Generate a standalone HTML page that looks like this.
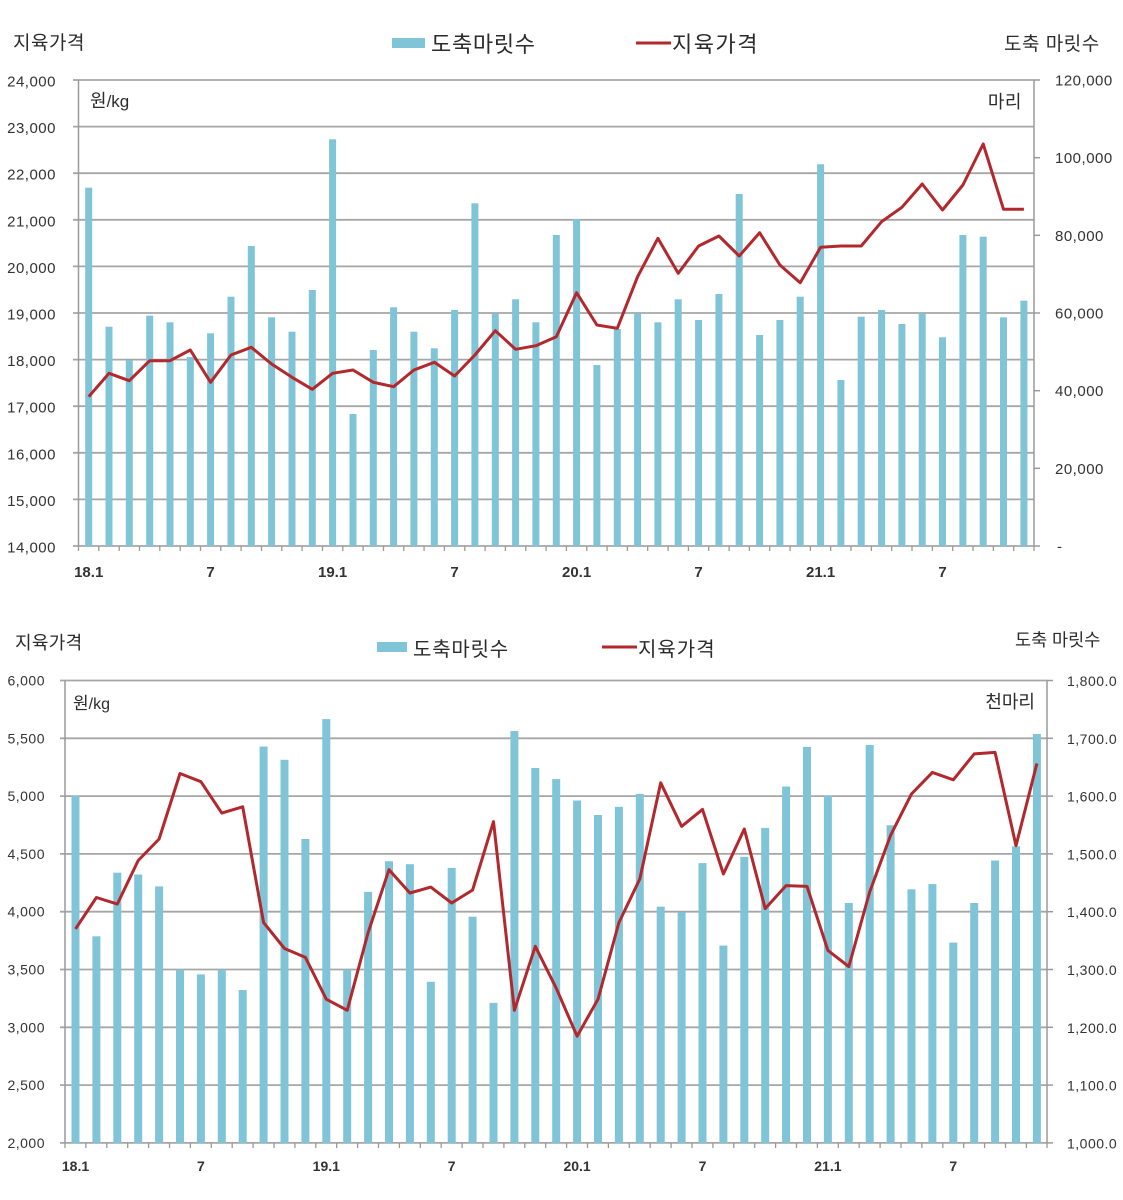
<!DOCTYPE html>
<html>
<head>
<meta charset="utf-8">
<style>
  html,body{margin:0;padding:0;background:#fff;}
  svg{display:block;}
  .kr{font-family:"Liberation Sans","Noto Sans CJK KR","NanumGothic",sans-serif;fill:#2b2b2b;}
  .t1{font-family:"Liberation Sans",sans-serif;font-size:15px;letter-spacing:0.5px;fill:#333;}
  .t2{font-family:"Liberation Sans",sans-serif;font-size:14px;letter-spacing:0.5px;fill:#333;}
  .xl1{font-family:"Liberation Sans",sans-serif;font-size:15px;font-weight:bold;fill:#333;}
  .xl2{font-family:"Liberation Sans",sans-serif;font-size:14px;font-weight:bold;fill:#333;}
</style>
</head>
<body>
<svg width="1123" height="1200" viewBox="0 0 1123 1200" xmlns="http://www.w3.org/2000/svg">
<rect x="0" y="0" width="1123" height="1200" fill="#fff"/>

<!-- ================= TOP CHART ================= -->
<text class="kr" x="13" y="49" font-size="19" letter-spacing="0.5">지육가격</text>
<rect x="392" y="38" width="33" height="10" fill="#80c4d8"/>
<text class="kr" x="431" y="52" font-size="22" letter-spacing="0.7">도축마릿수</text>
<line x1="636" y1="43" x2="671" y2="43" stroke="#b3282d" stroke-width="3"/>
<text class="kr" x="672" y="52" font-size="22" letter-spacing="1.5">지육가격</text>
<text class="kr" x="1004" y="50" font-size="19" letter-spacing="0.5">도축 마릿수</text>

<!-- gridlines -->
<g stroke="#a6a6a6" stroke-width="1.8">
  <line x1="73" y1="80" x2="1034" y2="80"/>
  <line x1="73" y1="126.6" x2="1034" y2="126.6"/>
  <line x1="73" y1="173.2" x2="1034" y2="173.2"/>
  <line x1="73" y1="219.8" x2="1034" y2="219.8"/>
  <line x1="73" y1="266.4" x2="1034" y2="266.4"/>
  <line x1="73" y1="313" x2="1034" y2="313"/>
  <line x1="73" y1="359.6" x2="1034" y2="359.6"/>
  <line x1="73" y1="406.2" x2="1034" y2="406.2"/>
  <line x1="73" y1="452.8" x2="1034" y2="452.8"/>
  <line x1="73" y1="499.4" x2="1034" y2="499.4"/>
  <line x1="73" y1="546" x2="1034" y2="546"/>
</g>
<!-- axes -->
<g stroke="#9a9a9a" stroke-width="1.5">
  <line x1="78.5" y1="80" x2="78.5" y2="546"/>
  <line x1="1034" y1="80" x2="1034" y2="546"/>
  <line x1="1034" y1="80" x2="1040" y2="80"/>
  <line x1="1034" y1="157.7" x2="1040" y2="157.7"/>
  <line x1="1034" y1="235.3" x2="1040" y2="235.3"/>
  <line x1="1034" y1="313" x2="1040" y2="313"/>
  <line x1="1034" y1="390.7" x2="1040" y2="390.7"/>
  <line x1="1034" y1="468.3" x2="1040" y2="468.3"/>
  <line x1="1034" y1="546" x2="1040" y2="546"/>
</g>
<!-- x ticks -->
<path stroke="#9a9a9a" stroke-width="1.3" fill="none" d="M78.5 546v5M98.8 546v5M119.2 546v5M139.5 546v5M159.8 546v5M180.2 546v5M200.5 546v5M220.8 546v5M241.1 546v5M261.5 546v5M281.8 546v5M302.1 546v5M322.5 546v5M342.8 546v5M363.1 546v5M383.5 546v5M403.8 546v5M424.1 546v5M444.4 546v5M464.8 546v5M485.1 546v5M505.4 546v5M525.8 546v5M546.1 546v5M566.4 546v5M586.8 546v5M607.1 546v5M627.4 546v5M647.7 546v5M668.1 546v5M688.4 546v5M708.7 546v5M729.1 546v5M749.4 546v5M769.7 546v5M790.1 546v5M810.4 546v5M830.7 546v5M851 546v5M871.4 546v5M891.7 546v5M912 546v5M932.4 546v5M952.7 546v5M973 546v5M993.4 546v5M1013.7 546v5M1034 546v5"/>

<!-- bars -->
<g fill="#80c4d8">
<rect x="85.2" y="187.7" width="7" height="358.3"/>
<rect x="105.5" y="326.7" width="7" height="219.3"/>
<rect x="125.8" y="360" width="7" height="186"/>
<rect x="146.2" y="315.7" width="7" height="230.3"/>
<rect x="166.5" y="322.3" width="7" height="223.7"/>
<rect x="186.8" y="357" width="7" height="189"/>
<rect x="207.1" y="333.3" width="7" height="212.7"/>
<rect x="227.5" y="296.7" width="7" height="249.3"/>
<rect x="247.8" y="246" width="7" height="300"/>
<rect x="268.1" y="317.3" width="7" height="228.7"/>
<rect x="288.5" y="331.7" width="7" height="214.3"/>
<rect x="308.8" y="290" width="7" height="256"/>
<rect x="329.1" y="139.3" width="7" height="406.7"/>
<rect x="349.5" y="414" width="7" height="132"/>
<rect x="369.8" y="350" width="7" height="196"/>
<rect x="390.1" y="307.3" width="7" height="238.7"/>
<rect x="410.4" y="331.7" width="7" height="214.3"/>
<rect x="430.8" y="348.3" width="7" height="197.7"/>
<rect x="451.1" y="310" width="7" height="236"/>
<rect x="471.4" y="203.3" width="7" height="342.7"/>
<rect x="491.8" y="313.3" width="7" height="232.7"/>
<rect x="512.1" y="299.3" width="7" height="246.7"/>
<rect x="532.4" y="322.3" width="7" height="223.7"/>
<rect x="552.8" y="235" width="7" height="311"/>
<rect x="573.1" y="219" width="7" height="327"/>
<rect x="593.4" y="365" width="7" height="181"/>
<rect x="613.8" y="329" width="7" height="217"/>
<rect x="634.1" y="313.3" width="7" height="232.7"/>
<rect x="654.4" y="322.3" width="7" height="223.7"/>
<rect x="674.7" y="299.3" width="7" height="246.7"/>
<rect x="695.1" y="320" width="7" height="226"/>
<rect x="715.4" y="294" width="7" height="252"/>
<rect x="735.7" y="194" width="7" height="352"/>
<rect x="756.1" y="335" width="7" height="211"/>
<rect x="776.4" y="320" width="7" height="226"/>
<rect x="796.7" y="296.7" width="7" height="249.3"/>
<rect x="817.1" y="164.3" width="7" height="381.7"/>
<rect x="837.4" y="380" width="7" height="166"/>
<rect x="857.7" y="316.7" width="7" height="229.3"/>
<rect x="878.1" y="310" width="7" height="236"/>
<rect x="898.4" y="324" width="7" height="222"/>
<rect x="918.7" y="313.3" width="7" height="232.7"/>
<rect x="939" y="337.3" width="7" height="208.7"/>
<rect x="959.4" y="235" width="7" height="311"/>
<rect x="979.7" y="236.7" width="7" height="309.3"/>
<rect x="1000" y="317.3" width="7" height="228.7"/>
<rect x="1020.4" y="300.7" width="7" height="245.3"/>
</g>

<polyline fill="none" stroke="#b3282d" stroke-width="3" stroke-linejoin="round" points="88.7,396.7 109,373.3 129.3,380.7 149.7,360.7 170,360.7 190.3,350 210.6,382.3 231,355 251.3,347.3 271.6,364 292,377.3 312.3,389.3 332.6,373.3 353,370 373.3,382.3 393.6,386.7 413.9,370 434.3,362.3 454.6,376 474.9,355 495.3,330.7 515.6,349.3 535.9,345.7 556.3,336.7 576.6,292.7 596.9,325 617.3,328.3 637.6,276.7 657.9,238.3 678.2,273.3 698.6,246 718.9,236 739.2,256 759.6,232.7 779.9,265 800.2,282.7 820.6,247.3 840.9,246 861.2,246 881.6,221.7 901.9,207.3 922.2,184 942.5,210 962.9,185 983.2,144 1003.5,209.3 1023.9,209.3"/>

<text class="kr" x="90" y="107" font-size="18">원<tspan font-family="Liberation Sans" font-size="17">/kg</tspan></text>
<text class="kr" x="1022" y="108" font-size="18" text-anchor="end" letter-spacing="0.5">마리</text>

<!-- left labels -->
<g class="t1" text-anchor="end">
<text x="56" y="86.5">24,000</text>
<text x="56" y="133.1">23,000</text>
<text x="56" y="179.7">22,000</text>
<text x="56" y="226.3">21,000</text>
<text x="56" y="272.9">20,000</text>
<text x="56" y="319.5">19,000</text>
<text x="56" y="366.1">18,000</text>
<text x="56" y="412.7">17,000</text>
<text x="56" y="459.3">16,000</text>
<text x="56" y="505.9">15,000</text>
<text x="56" y="552.5">14,000</text>
</g>
<!-- right labels -->
<g class="t1">
<text x="1055" y="85.5">120,000</text>
<text x="1055" y="163.2">100,000</text>
<text x="1055" y="240.8">80,000</text>
<text x="1055" y="318.5">60,000</text>
<text x="1055" y="396.2">40,000</text>
<text x="1055" y="473.8">20,000</text>
<text x="1057" y="551.5">-</text>
</g>
<!-- x labels -->
<g class="xl1" text-anchor="middle">
<text x="88.7" y="577">18.1</text>
<text x="210.6" y="577">7</text>
<text x="332.6" y="577">19.1</text>
<text x="454.6" y="577">7</text>
<text x="576.6" y="577">20.1</text>
<text x="698.6" y="577">7</text>
<text x="820.6" y="577">21.1</text>
<text x="942.5" y="577">7</text>
</g>

<!-- ================= BOTTOM CHART ================= -->
<text class="kr" x="15" y="649" font-size="18" letter-spacing="0.3">지육가격</text>
<rect x="377" y="642" width="30" height="10" fill="#80c4d8"/>
<text class="kr" x="413" y="656" font-size="20" letter-spacing="0.8">도축마릿수</text>
<line x1="602" y1="647" x2="637" y2="647" stroke="#b3282d" stroke-width="3"/>
<text class="kr" x="638" y="656" font-size="20" letter-spacing="1">지육가격</text>
<text class="kr" x="1015" y="646" font-size="17.5">도축 마릿수</text>

<g stroke="#a6a6a6" stroke-width="1.8">
  <line x1="60" y1="680.5" x2="1047" y2="680.5"/>
  <line x1="60" y1="738.3" x2="1047" y2="738.3"/>
  <line x1="60" y1="796.1" x2="1047" y2="796.1"/>
  <line x1="60" y1="853.9" x2="1047" y2="853.9"/>
  <line x1="60" y1="911.7" x2="1047" y2="911.7"/>
  <line x1="60" y1="969.5" x2="1047" y2="969.5"/>
  <line x1="60" y1="1027.3" x2="1047" y2="1027.3"/>
  <line x1="60" y1="1085.1" x2="1047" y2="1085.1"/>
  <line x1="60" y1="1142.9" x2="1047" y2="1142.9"/>
</g>
<g stroke="#9a9a9a" stroke-width="1.5">
  <line x1="65" y1="680.5" x2="65" y2="1143"/>
  <line x1="1047" y1="680.5" x2="1047" y2="1143"/>
  <line x1="1047" y1="680.5" x2="1053" y2="680.5"/>
  <line x1="1047" y1="738.3" x2="1053" y2="738.3"/>
  <line x1="1047" y1="796.1" x2="1053" y2="796.1"/>
  <line x1="1047" y1="853.9" x2="1053" y2="853.9"/>
  <line x1="1047" y1="911.7" x2="1053" y2="911.7"/>
  <line x1="1047" y1="969.5" x2="1053" y2="969.5"/>
  <line x1="1047" y1="1027.3" x2="1053" y2="1027.3"/>
  <line x1="1047" y1="1085.1" x2="1053" y2="1085.1"/>
  <line x1="1047" y1="1142.9" x2="1053" y2="1142.9"/>
</g>
<path stroke="#9a9a9a" stroke-width="1.3" fill="none" d="M65 1143v5M85.9 1143v5M106.8 1143v5M127.7 1143v5M148.6 1143v5M169.5 1143v5M190.4 1143v5M211.3 1143v5M232.2 1143v5M253.1 1143v5M274 1143v5M294.9 1143v5M315.8 1143v5M336.7 1143v5M357.6 1143v5M378.5 1143v5M399.4 1143v5M420.3 1143v5M441.2 1143v5M462.1 1143v5M483 1143v5M503.9 1143v5M524.8 1143v5M545.7 1143v5M566.6 1143v5M587.5 1143v5M608.4 1143v5M629.3 1143v5M650.2 1143v5M671.1 1143v5M692 1143v5M712.9 1143v5M733.8 1143v5M754.7 1143v5M775.6 1143v5M796.5 1143v5M817.4 1143v5M838.3 1143v5M859.2 1143v5M880.1 1143v5M901 1143v5M921.9 1143v5M942.8 1143v5M963.7 1143v5M984.6 1143v5M1005.5 1143v5M1026.4 1143v5M1047 1143v5"/>

<g fill="#80c4d8">
<rect x="71.5" y="795.7" width="8" height="347.3"/>
<rect x="92.4" y="936.3" width="8" height="206.7"/>
<rect x="113.3" y="872.7" width="8" height="270.3"/>
<rect x="134.2" y="874.5" width="8" height="268.5"/>
<rect x="155.1" y="886.4" width="8" height="256.6"/>
<rect x="176" y="969.6" width="8" height="173.4"/>
<rect x="196.9" y="974.4" width="8" height="168.6"/>
<rect x="217.8" y="969.6" width="8" height="173.4"/>
<rect x="238.7" y="990" width="8" height="153"/>
<rect x="259.6" y="746.5" width="8" height="396.5"/>
<rect x="280.5" y="759.8" width="8" height="383.2"/>
<rect x="301.4" y="839" width="8" height="304"/>
<rect x="322.3" y="719.1" width="8" height="423.9"/>
<rect x="343.2" y="969.6" width="8" height="173.4"/>
<rect x="364.1" y="891.9" width="8" height="251.1"/>
<rect x="385" y="861.2" width="8" height="281.8"/>
<rect x="405.9" y="864.2" width="8" height="278.8"/>
<rect x="426.8" y="981.8" width="8" height="161.2"/>
<rect x="447.7" y="867.9" width="8" height="275.1"/>
<rect x="468.6" y="916.7" width="8" height="226.3"/>
<rect x="489.5" y="1002.9" width="8" height="140.1"/>
<rect x="510.4" y="731" width="8" height="412"/>
<rect x="531.3" y="768" width="8" height="375"/>
<rect x="552.2" y="779.1" width="8" height="363.9"/>
<rect x="573.1" y="800.5" width="8" height="342.5"/>
<rect x="594" y="815" width="8" height="328"/>
<rect x="614.9" y="806.8" width="8" height="336.2"/>
<rect x="635.8" y="793.9" width="8" height="349.1"/>
<rect x="656.7" y="906.7" width="8" height="236.3"/>
<rect x="677.6" y="912.3" width="8" height="230.7"/>
<rect x="698.5" y="863.1" width="8" height="279.9"/>
<rect x="719.4" y="945.6" width="8" height="197.4"/>
<rect x="740.3" y="856.8" width="8" height="286.2"/>
<rect x="761.2" y="827.9" width="8" height="315.1"/>
<rect x="782.1" y="786.5" width="8" height="356.5"/>
<rect x="803" y="746.9" width="8" height="396.1"/>
<rect x="823.9" y="795.7" width="8" height="347.3"/>
<rect x="844.8" y="903" width="8" height="240"/>
<rect x="865.7" y="745" width="8" height="398"/>
<rect x="886.6" y="825.3" width="8" height="317.7"/>
<rect x="907.5" y="889.3" width="8" height="253.7"/>
<rect x="928.4" y="884.1" width="8" height="258.9"/>
<rect x="949.3" y="942.6" width="8" height="200.4"/>
<rect x="970.2" y="903" width="8" height="240"/>
<rect x="991.1" y="860.5" width="8" height="282.5"/>
<rect x="1012" y="846.4" width="8" height="296.6"/>
<rect x="1032.9" y="734" width="8" height="409"/>
</g>

<polyline fill="none" stroke="#b3282d" stroke-width="3" stroke-linejoin="round" points="75.5,928.9 96.4,897.5 117.3,904.1 138.2,860.5 159.1,839 180,773.5 200.9,781.7 221.8,813.1 242.7,806.8 263.6,922.6 284.5,948.5 305.4,957.4 326.3,999.2 347.2,1010.3 368.1,932.6 389,869.7 409.9,893 430.8,887.1 451.7,903 472.6,890 493.5,821.6 514.4,1010.3 535.3,946.3 556.2,988.1 577.1,1036.2 598,999.2 618.9,922.6 639.8,879 660.7,782.8 681.6,826.4 702.5,809.4 723.4,874 744.3,829 765.2,908.6 786.1,885.6 807,886.4 827.9,950.4 848.8,966.6 869.7,891.9 890.6,835.3 911.5,793.9 932.4,772.4 953.3,779.8 974.2,753.9 995.1,752.4 1016,845.7 1036.9,763.5"/>

<text class="kr" x="73" y="709" font-size="17">원<tspan font-family="Liberation Sans" font-size="16">/kg</tspan></text>
<text class="kr" x="1035" y="708" font-size="18" text-anchor="end">천마리</text>

<g class="t2" text-anchor="end">
<text x="45" y="685.5">6,000</text>
<text x="45" y="743.3">5,500</text>
<text x="45" y="801.1">5,000</text>
<text x="45" y="858.9">4,500</text>
<text x="45" y="916.7">4,000</text>
<text x="45" y="974.5">3,500</text>
<text x="45" y="1032.3">3,000</text>
<text x="45" y="1090.1">2,500</text>
<text x="45" y="1147.9">2,000</text>
</g>
<g class="t2">
<text x="1067" y="686">1,800.0</text>
<text x="1067" y="743.8">1,700.0</text>
<text x="1067" y="801.6">1,600.0</text>
<text x="1067" y="859.4">1,500.0</text>
<text x="1067" y="917.2">1,400.0</text>
<text x="1067" y="975">1,300.0</text>
<text x="1067" y="1032.8">1,200.0</text>
<text x="1067" y="1090.6">1,100.0</text>
<text x="1067" y="1148.4">1,000.0</text>
</g>
<g class="xl2" text-anchor="middle">
<text x="75.5" y="1171">18.1</text>
<text x="200.9" y="1171">7</text>
<text x="326.3" y="1171">19.1</text>
<text x="451.7" y="1171">7</text>
<text x="577.1" y="1171">20.1</text>
<text x="702.5" y="1171">7</text>
<text x="827.9" y="1171">21.1</text>
<text x="953.3" y="1171">7</text>
</g>
</svg>
</body>
</html>
